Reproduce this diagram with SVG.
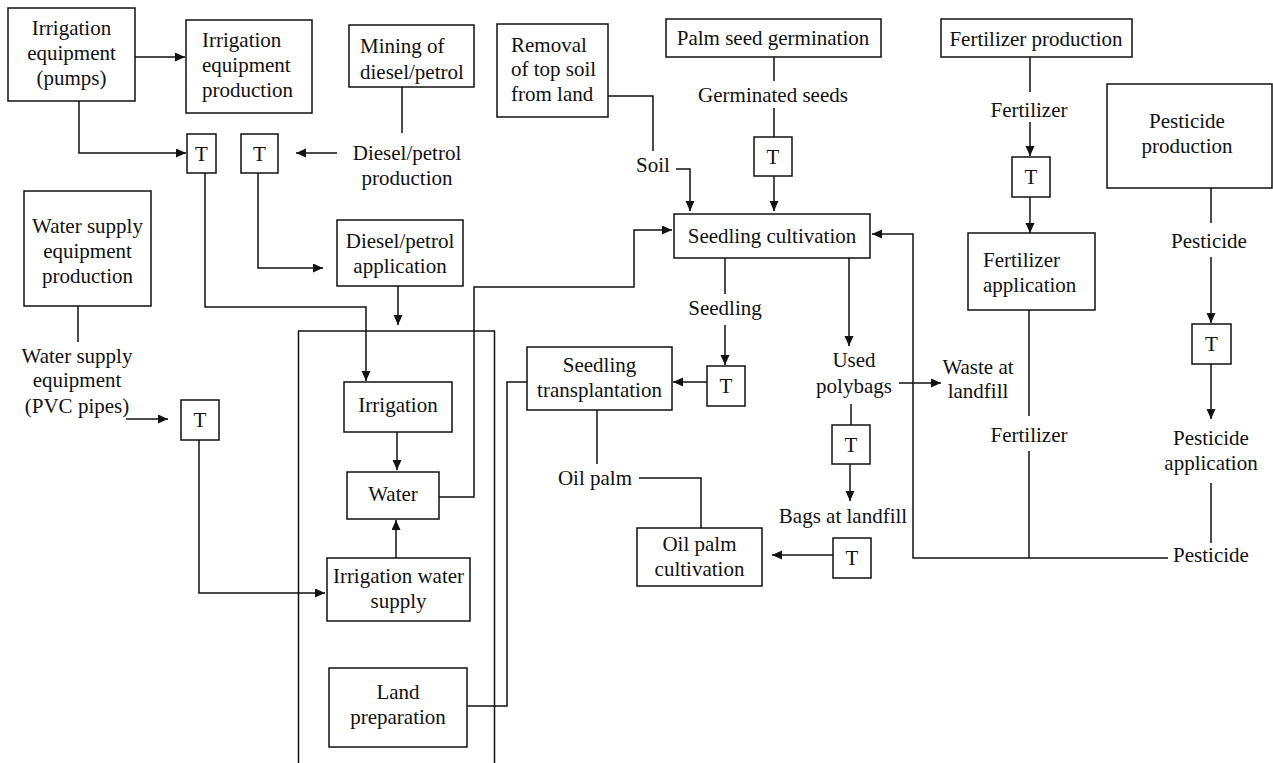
<svg xmlns="http://www.w3.org/2000/svg" width="1273" height="763" viewBox="0 0 1273 763">
<defs>
<style>
.b{fill:#fff;stroke:#111;stroke-width:1.5}
.l{fill:none;stroke:#111;stroke-width:1.5}
.a{fill:none;stroke:#111;stroke-width:1.5;marker-end:url(#ah)}
text{font-family:"Liberation Serif","Times New Roman",serif;font-size:21px;fill:#111}
.m{text-anchor:middle}
</style>
<marker id="ah" markerUnits="userSpaceOnUse" markerWidth="11" markerHeight="10" refX="10" refY="4.5" orient="auto">
<path d="M0,0 L10,4.5 L0,9 z" fill="#111"/>
</marker>
</defs>
<rect width="1273" height="763" fill="#fff"/>

<g id="connectors">
<path class="a" d="M135,57 H185"/>
<path class="a" d="M79,101 V153 H186"/>
<path class="l" d="M402,87 V133"/>
<path class="a" d="M337,153 H296"/>
<path class="a" d="M205,173 V307 H366 V381"/>
<path class="a" d="M258,173 V268 H323"/>
<path class="a" d="M398,286 V325"/>
<path class="l" d="M298.5,763 V331 H494.5 V763"/>
<path class="l" d="M78,306 V342"/>
<path class="a" d="M126,419 H168"/>
<path class="a" d="M199,440 V593 H325"/>
<path class="a" d="M397,432 V470"/>
<path class="a" d="M396,558 V520"/>
<path class="a" d="M439,497 H474 V287 H634 V230 H672"/>
<path class="l" d="M467,706 H507 V382 H527"/>
<path class="l" d="M608,96 H653 V151"/>
<path class="a" d="M676,169 H690 V211"/>
<path class="l" d="M774,57 V81"/>
<path class="l" d="M774,108 V137"/>
<path class="a" d="M774,176 V211"/>
<path class="l" d="M1030,57 V92"/>
<path class="a" d="M1030,122 V156"/>
<path class="a" d="M1030,197 V233"/>
<path class="l" d="M1211,188 V223"/>
<path class="a" d="M1211,257 V323"/>
<path class="a" d="M1211,364 V419"/>
<path class="l" d="M1211,483 V543"/>
<path class="l" d="M1029,310 V416"/>
<path class="l" d="M1029,451 V558"/>
<path class="a" d="M1168,558 H913 V234 H872"/>
<path class="l" d="M725,258 V294"/>
<path class="a" d="M725,325 V365"/>
<path class="a" d="M707,382 H673"/>
<path class="a" d="M849,258 V346"/>
<path class="a" d="M899,383 H941"/>
<path class="l" d="M851,404 V425"/>
<path class="a" d="M850,464 V501"/>
<path class="a" d="M833,555 H772"/>
<path class="l" d="M597,410 V464"/>
<path class="l" d="M639,478 H701 V528"/>
</g>

<g id="irrigation-equipment-pumps"><rect class="b" x="8" y="8" width="127" height="93"/>
<text class="m" x="71.5" y="35">Irrigation</text><text class="m" x="71.5" y="60">equipment</text><text class="m" x="71.5" y="85">(pumps)</text></g>
<g id="irrigation-equipment-production"><rect class="b" x="186" y="20" width="126" height="93"/>
<text x="202" y="47">Irrigation</text><text x="202" y="72">equipment</text><text x="202" y="97">production</text></g>
<g id="mining-diesel"><rect class="b" x="349" y="25" width="125" height="62"/>
<text x="360" y="53">Mining of</text><text x="360" y="79">diesel/petrol</text></g>
<g id="diesel-petrol-production"><text class="m" x="407" y="160">Diesel/petrol</text><text class="m" x="407" y="185">production</text></g>
<g id="t1"><rect class="b" x="187" y="134" width="29" height="39"/><text class="m" x="201.5" y="161">T</text></g>
<g id="t2"><rect class="b" x="241" y="134" width="37" height="39"/><text class="m" x="259.5" y="161">T</text></g>
<g id="removal-top-soil"><rect class="b" x="497" y="24" width="111" height="93"/>
<text x="511" y="52">Removal</text><text x="511" y="76">of top soil</text><text x="511" y="101">from land</text></g>
<g id="soil"><text class="m" x="653" y="172">Soil</text></g>
<g id="palm-seed-germination"><rect class="b" x="666" y="19" width="215" height="38"/><text class="m" x="773" y="45">Palm seed germination</text></g>
<g id="germinated-seeds"><text class="m" x="773" y="102">Germinated seeds</text></g>
<g id="t-germ"><rect class="b" x="754" y="137" width="38" height="39"/><text class="m" x="773" y="164">T</text></g>
<g id="fertilizer-production"><rect class="b" x="941" y="19" width="191" height="38"/><text class="m" x="1036" y="46">Fertilizer production</text></g>
<g id="fertilizer-1"><text class="m" x="1029" y="117">Fertilizer</text></g>
<g id="t-fert"><rect class="b" x="1012" y="157" width="38" height="40"/><text class="m" x="1031" y="184">T</text></g>
<g id="fertilizer-application"><rect class="b" x="968" y="233" width="127" height="77"/>
<text x="983" y="267">Fertilizer</text><text x="983" y="292">application</text></g>
<g id="pesticide-production"><rect class="b" x="1107" y="84" width="165" height="104"/>
<text class="m" x="1187" y="128">Pesticide</text><text class="m" x="1187" y="153">production</text></g>
<g id="pesticide-1"><text class="m" x="1209" y="248">Pesticide</text></g>
<g id="t-pest"><rect class="b" x="1192" y="324" width="39" height="40"/><text class="m" x="1211.5" y="351">T</text></g>
<g id="pesticide-application"><text class="m" x="1211" y="445">Pesticide</text><text class="m" x="1211" y="470">application</text></g>
<g id="pesticide-2"><text class="m" x="1211" y="562">Pesticide</text></g>
<g id="fertilizer-2"><text class="m" x="1029" y="442">Fertilizer</text></g>
<g id="waste-landfill"><text class="m" x="978" y="374">Waste at</text><text class="m" x="978" y="398">landfill</text></g>
<g id="water-supply-equipment-production"><rect class="b" x="24" y="191" width="127" height="115"/>
<text class="m" x="87.5" y="233">Water supply</text><text class="m" x="87.5" y="258">equipment</text><text class="m" x="87.5" y="283">production</text></g>
<g id="water-supply-equipment"><text class="m" x="77" y="363">Water supply</text><text class="m" x="77" y="387">equipment</text><text class="m" x="77" y="413">(PVC pipes)</text></g>
<g id="t-water"><rect class="b" x="181" y="400" width="38" height="40"/><text class="m" x="200" y="427">T</text></g>
<g id="diesel-petrol-application"><rect class="b" x="337" y="220" width="126" height="66"/>
<text class="m" x="400" y="248">Diesel/petrol</text><text class="m" x="400" y="273">application</text></g>
<g id="irrigation"><rect class="b" x="344" y="382" width="108" height="50"/><text class="m" x="398" y="412">Irrigation</text></g>
<g id="water"><rect class="b" x="347" y="472" width="92" height="47"/><text class="m" x="393" y="501">Water</text></g>
<g id="irrigation-water-supply"><rect class="b" x="327" y="558" width="143" height="63"/>
<text class="m" x="398.5" y="583">Irrigation water</text><text class="m" x="398.5" y="608">supply</text></g>
<g id="land-preparation"><rect class="b" x="329" y="668" width="138" height="79"/>
<text class="m" x="398" y="699">Land</text><text class="m" x="398" y="724">preparation</text></g>
<g id="seedling-cultivation"><rect class="b" x="674" y="214" width="196" height="44"/><text class="m" x="772" y="243">Seedling cultivation</text></g>
<g id="seedling"><text class="m" x="725" y="315">Seedling</text></g>
<g id="t-seedling"><rect class="b" x="707" y="366" width="38" height="40"/><text class="m" x="726" y="393">T</text></g>
<g id="seedling-transplantation"><rect class="b" x="527" y="347" width="145" height="63"/>
<text class="m" x="599.5" y="372">Seedling</text><text class="m" x="599.5" y="397">transplantation</text></g>
<g id="used-polybags"><text class="m" x="854" y="367">Used</text><text class="m" x="854" y="393">polybags</text></g>
<g id="t-polybags"><rect class="b" x="832" y="425" width="38" height="39"/><text class="m" x="851" y="452">T</text></g>
<g id="bags-landfill"><text class="m" x="843" y="523">Bags at landfill</text></g>
<g id="t-bags"><rect class="b" x="833" y="538" width="38" height="40"/><text class="m" x="852" y="565">T</text></g>
<g id="oil-palm"><text class="m" x="595" y="485">Oil palm</text></g>
<g id="oil-palm-cultivation"><rect class="b" x="637" y="528" width="125" height="58"/>
<text class="m" x="699.5" y="551">Oil palm</text><text class="m" x="699.5" y="576">cultivation</text></g>
</svg>
